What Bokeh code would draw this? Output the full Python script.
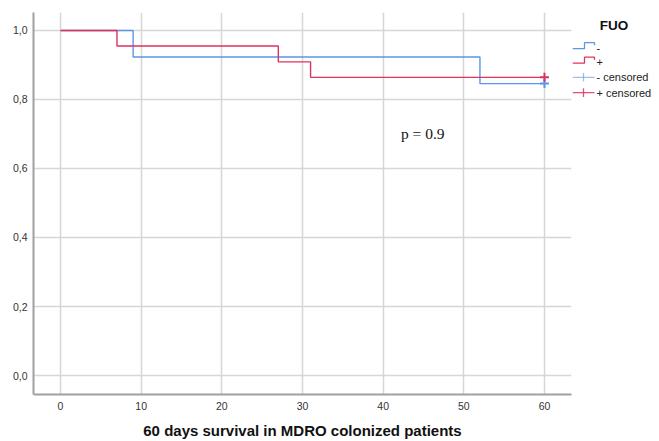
from bokeh.plotting import figure
from bokeh.models import Range1d, FixedTicker, CustomJSTickFormatter, Label, ColumnDataSource
from bokeh.layouts import row
from bokeh.core.properties import value
from bokeh.embed import file_html
from bokeh.resources import INLINE

# ---- data ----
neg_times = [0, 9, 52, 60]
neg_surv = [1.0, 0.923, 0.846, 0.846]
pos_times = [0, 7, 27, 31, 60]
pos_surv = [1.0, 0.955, 0.909, 0.864, 0.864]
neg_censor_t = [60]
neg_censor_s = [0.846]
pos_censor_t = [60]
pos_censor_s = [0.864]
x_ticks = [0, 10, 20, 30, 40, 50, 60]
y_ticks = [0.0, 0.2, 0.4, 0.6, 0.8, 1.0]
legend_title = "FUO"
legend_labels = ["-", "+", "- censored", "+ censored"]
x_title = "60 days survival in MDRO colonized patients"
p_text = "p = 0.9"

BLUE = "#5b97e4"
RED = "#e0325e"
FONT = "Liberation Sans"

TOP, BOTTOM = 12, 47
H = 441

p = figure(width=572, height=H, x_range=Range1d(-3.35, 63.35), y_range=Range1d(-0.055, 1.052),
           output_backend="svg", toolbar_location=None, title_location=None,
           min_border_left=33, min_border_right=1, min_border_top=TOP, min_border_bottom=BOTTOM,
           margin=(0, 0, 0, 0))
p.outline_line_color = None
p.background_fill_color = "white"
p.border_fill_color = "white"

for ax in (p.xaxis[0], p.yaxis[0]):
    ax.axis_line_color = "#a0a0a0"
    ax.axis_line_width = 2
    ax.major_tick_line_color = None
    ax.minor_tick_line_color = None
    ax.major_tick_out = 0
    ax.major_tick_in = 0
    ax.minor_tick_out = 0
    ax.minor_tick_in = 0
    ax.major_label_text_font = FONT
    ax.major_label_text_font_size = "10.5px"
    ax.major_label_text_color = "#333333"

p.xaxis.ticker = FixedTicker(ticks=x_ticks)
p.yaxis.ticker = FixedTicker(ticks=y_ticks)
p.yaxis.formatter = CustomJSTickFormatter(code="return tick.toFixed(1).replace('.', ',');")
p.yaxis.major_label_standoff = 6
p.xaxis.major_label_standoff = 7
p.xaxis.axis_label = x_title
p.xaxis.axis_label_text_font = FONT
p.xaxis.axis_label_text_font_style = "bold"
p.xaxis.axis_label_text_font_size = "15px"
p.xaxis.axis_label_text_color = "#111111"
p.xaxis.axis_label_standoff = 9

p.xgrid.grid_line_color = "#d6d6d6"
p.ygrid.grid_line_color = "#d6d6d6"
p.xgrid.grid_line_width = 1.5
p.ygrid.grid_line_width = 1.5

p.step(neg_times, neg_surv, mode="after", line_color=BLUE, line_width=1.4)
p.step(pos_times, pos_surv, mode="after", line_color=RED, line_width=1.4)
p.scatter(neg_censor_t, neg_censor_s, marker="cross", size=9, line_color=BLUE, line_width=2)
p.scatter(pos_censor_t, pos_censor_s, marker="cross", size=9, line_color=RED, line_width=2)

p.add_layout(Label(x=42.2, y=0.70, text=p_text, text_font="Liberation Serif",
                   text_font_size="15.5px", text_baseline="middle", text_color="#111111"))

# ---- legend panel (frame aligned with main plot frame; y range in screen pixels) ----
lg = figure(width=87, height=H, x_range=Range1d(0, 87), y_range=Range1d(H - BOTTOM, TOP),
            output_backend="svg", toolbar_location=None, title_location=None,
            min_border_left=0, min_border_right=0, min_border_top=TOP, min_border_bottom=BOTTOM,
            margin=(0, 0, 0, 0))
lg.axis.visible = False
lg.grid.visible = False
lg.outline_line_color = None
lg.background_fill_color = "white"
lg.border_fill_color = "white"

lg.text(x=[41.5], y=[25], text=[legend_title], text_font=value(FONT), text_font_style="bold",
        text_font_size="13.5px", text_align="center", text_baseline="middle", text_color="#111111")

row_y = [48.2, 62.7, 76.8, 92.1]
colors = [BLUE, RED, BLUE, RED]
# step icons
for i in range(2):
    yb = row_y[i]
    lg.line([0, 12, 12, 22, 22], [yb, yb, yb - 6, yb - 6, yb - 3.5], line_color=colors[i], line_width=1.3)
# cross icons
for i in range(2, 4):
    yc = row_y[i]
    alpha = 0.6 if colors[i] == BLUE else 0.85
    lg.line([0, 22], [yc, yc], line_color=colors[i], line_width=1.3, line_alpha=alpha)
    lg.line([11, 11], [yc - 4.3, yc + 4.3], line_color=colors[i], line_width=1.3, line_alpha=alpha)

src = ColumnDataSource(dict(x=[24] * 4, y=[row_y[0] - 0.5, row_y[1] - 1.5, row_y[2], row_y[3]], t=legend_labels))
lg.text(x="x", y="y", text="t", source=src, text_font=value(FONT), text_font_size="11px",
        text_baseline="middle", text_color="#222222")

layout = row(p, lg)
open("out.html", "w").write(file_html(layout, INLINE))
